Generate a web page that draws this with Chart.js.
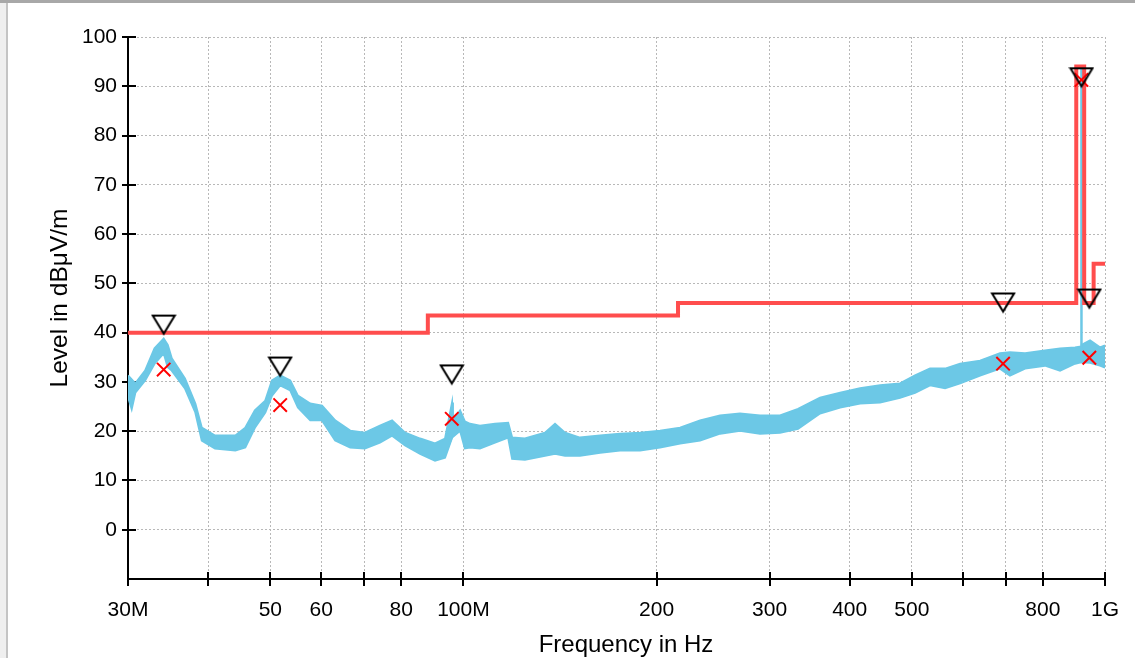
<!DOCTYPE html>
<html>
<head>
<meta charset="utf-8">
<script src="https://cdn.jsdelivr.net/npm/chart.js@4.4.1/dist/chart.umd.min.js"></script>
<style>
  html, body { margin: 0; padding: 0; background: #fff; }
  #wrap { position: relative; width: 1135px; height: 658px; overflow: hidden; }
  #emiChart { position: absolute; left: 0; top: 0; }
  #frameTop { position: absolute; left: 0; top: 0; width: 1135px; height: 3px; background: #a8a8a8; }
  #frameLeft { position: absolute; left: 0; top: 0; width: 6px; height: 658px; background: #efefef; border-right: 2px solid #c4c4c4; }
</style>
</head>
<body>
<div id="wrap">
  <canvas id="emiChart" width="1135" height="658"></canvas>
  <div id="frameLeft"></div>
  <div id="frameTop"></div>
</div>
<script>
// measured trace (MHz) - band read as low / high edge of the noisy sweep
const traceFreq = [30.0, 30.4, 30.8, 31.9, 33.0, 34.1, 34.6, 35.1, 36.8, 38.2, 39.1, 41.0, 44.1, 45.7, 47.3, 49.1,
  50.3, 51.8, 53.7, 55.2, 57.7, 60.2, 63.1, 66.6, 70.2, 74.1, 77.4, 81.1, 85.6, 90.3, 93.6, 96.0, 96.3, 98.8,
  100.5, 102.4, 106.1, 112.0, 117.4, 119.1, 124.7, 134.0, 138.9, 144.0, 151.9, 163.3, 175.4, 188.5, 202.5,
  217.6, 233.8, 251.2, 269.8, 289.9, 311.5, 332.3, 359.6, 386.5, 415.2, 446.1, 479.2, 505.7, 533.7, 563.3,
  594.5, 638.7, 686.0, 711.0, 750.6, 806.0, 851.0, 898.0, 917.5, 919.0, 920.5, 947.8, 982.0, 1000.0];
const traceLow = [27.0, 24.5, 27.8, 30.3, 33.7, 35.8, 33.0, 32.3, 28.7, 23.8, 18.1, 16.5, 16.1, 16.7, 20.7, 23.8,
  27.2, 29.3, 28.3, 24.8, 22.2, 22.2, 18.1, 16.7, 16.5, 17.7, 19.1, 17.1, 15.4, 14.0, 14.6, 18.7, 18.7, 20.1,
  16.5, 16.7, 16.5, 17.7, 18.7, 14.4, 14.2, 15.0, 15.4, 15.0, 15.0, 15.6, 16.1, 16.1, 16.7,
  17.5, 18.1, 19.5, 20.1, 19.5, 19.7, 20.5, 23.6, 24.8, 25.6, 25.8, 26.8, 27.8, 29.3, 28.7,
  29.7, 31.3, 32.7, 31.3, 32.7, 33.3, 32.3, 33.7, 34.0, 34.0, 34.0, 33.9, 33.3, 32.9];
const traceHigh = [31.3, 30.5, 29.7, 32.3, 36.8, 38.8, 37.5, 34.8, 30.7, 25.6, 20.7, 19.1, 19.1, 20.7, 24.2, 26.2,
  30.3, 31.3, 30.3, 27.2, 25.6, 25.2, 22.2, 20.1, 19.7, 21.1, 22.2, 19.7, 18.5, 17.5, 18.5, 25.8, 22.2, 24.2,
  22.0, 21.5, 21.1, 21.5, 21.7, 18.7, 18.5, 19.7, 21.5, 19.7, 18.7, 19.1, 19.5, 19.7, 20.1,
  20.7, 22.2, 23.2, 23.6, 23.2, 23.2, 24.5, 26.8, 27.8, 28.7, 29.3, 29.7, 31.3, 32.7, 32.7,
  33.7, 34.3, 35.8, 36.0, 35.8, 36.4, 36.8, 37.0, 37.2, 37.5, 37.5, 38.4, 37.0, 37.4];

// narrow carrier spike near 919 MHz
const spikeFreq = [919.0, 919.0];
const spikeLevel = [36.0, 93.5];

// limit line (each level holds until the next frequency)
const limitFreq = [30, 88, 216, 902, 928, 960, 1000];
const limitLevel = [40, 43.5, 46, 94, 46, 54, 54];

// peak (triangle) and quasi-peak (x) markers
const markerFreq = [34.1, 51.8, 95.9, 693.6, 945.3, 919.0];
const peakLevel = [39.8, 31.3, 29.7, 44.3, 45.1, 90.0];
const qpLevel = [32.5, 25.3, 22.5, 33.7, 34.9, 91.3];

// axis ticks
const xTicks = [30, 40, 50, 60, 70, 80, 100, 200, 300, 400, 500, 600, 700, 800, 1000];
const xTickLabels = ['30M', '', '50', '60', '', '80', '100M', '200', '300', '400', '500', '', '', '800', '1G'];
const yMin = -10, yMax = 100;

document.addEventListener('DOMContentLoaded', function(){
  const FONT = '"Liberation Sans", Arial, sans-serif';
  const TRACE = '#6cc8e6';
  const pts = (fs, vs) => fs.map((f, i) => ({x: f * 1e6, y: vs[i]}));

  // down triangle with its tip at the canvas centre
  const tri = document.createElement('canvas');
  tri.width = 26; tri.height = 40;
  const tc = tri.getContext('2d');
  tc.strokeStyle = '#000'; tc.lineWidth = 2; tc.lineJoin = 'miter';
  tc.beginPath(); tc.moveTo(2, 2); tc.lineTo(24, 2); tc.lineTo(13, 20); tc.closePath(); tc.stroke();

  // tick marks that cross the axis lines
  const tickMarks = {
    id: 'tickMarks',
    beforeDatasetsDraw(chart){
      const c = chart.ctx, xs = chart.scales.x, ys = chart.scales.y;
      c.save();
      c.strokeStyle = '#000'; c.lineWidth = 2;
      c.beginPath();
      ys.ticks.forEach(t => {
        if (t.value <= yMin) return;
        const py = Math.round(ys.getPixelForValue(t.value));
        c.moveTo(xs.left - 6, py); c.lineTo(xs.left + 8, py);
      });
      xs.ticks.forEach(t => {
        const px = Math.round(xs.getPixelForValue(t.value));
        c.moveTo(px, ys.bottom - 7); c.lineTo(px, ys.bottom + 7);
      });
      c.stroke();
      c.restore();
    }
  };

  // axis titles, placed where the original has them
  const axisTitles = {
    id: 'axisTitles',
    afterDraw(chart){
      const c = chart.ctx;
      c.save();
      c.fillStyle = '#000';
      c.textAlign = 'center'; c.textBaseline = 'middle';
      c.font = '24px ' + FONT;
      c.fillText('Frequency in Hz', 626, 645);
      c.translate(60, 298);
      c.rotate(-Math.PI / 2);
      c.font = '24.5px ' + FONT;
      c.fillText('Level in dBμV/m', 0, 0);
      c.restore();
    }
  };

  new Chart(document.getElementById('emiChart'), {
    type: 'line',
    data: {
      datasets: [
        { data: pts(markerFreq, peakLevel), showLine: false, pointStyle: tri, pointRadius: 10 },
        { data: pts(markerFreq, qpLevel), showLine: false, pointStyle: 'crossRot', pointRadius: 9.5,
          pointBorderColor: '#ff0000', pointBorderWidth: 2 },
        { data: pts(limitFreq, limitLevel), stepped: 'before', borderColor: '#ff4d4d', borderWidth: 4,
          pointRadius: 0, borderJoinStyle: 'miter' },
        { data: pts(spikeFreq, spikeLevel), borderColor: TRACE, borderWidth: 2.5, pointRadius: 0 },
        { data: pts(traceFreq, traceHigh), borderColor: TRACE, borderWidth: 2, pointRadius: 0,
          fill: '+1', backgroundColor: TRACE },
        { data: pts(traceFreq, traceLow), borderColor: TRACE, borderWidth: 2, pointRadius: 0 }
      ]
    },
    options: {
      responsive: false,
      animation: false,
      events: [],
      layout: { padding: { left: 0, top: 37, right: 30, bottom: 0 } },
      plugins: { legend: { display: false }, tooltip: { enabled: false } },
      scales: {
        x: {
          type: 'logarithmic', min: 30e6, max: 1e9,
          afterBuildTicks: s => { s.ticks = xTicks.map(v => ({value: v * 1e6})); },
          afterFit: s => { s.height = 79; s.paddingLeft = 0; s.paddingRight = 0; },
          grid: { color: '#b8b8b8', lineWidth: 1, drawTicks: false },
          border: { color: '#000', width: 2, dash: [2, 2] },
          ticks: { autoSkip: false, maxRotation: 0, padding: 19, color: '#000',
            font: { family: FONT, size: 21 },
            callback: (v, i) => xTickLabels[i] }
        },
        y: {
          min: yMin, max: yMax,
          afterFit: s => { s.width = 128; s.paddingTop = 0; s.paddingBottom = 0; },
          grid: { color: '#b8b8b8', lineWidth: 1, drawTicks: false },
          border: { color: '#000', width: 2, dash: [2, 2] },
          ticks: { stepSize: 5, padding: 11, color: '#000', font: { family: FONT, size: 21 },
            callback: v => (v % 10 === 0 && v >= 0) ? v : '' }
        }
      }
    },
    plugins: [tickMarks, axisTitles]
  });
});
</script>
</body>
</html>
